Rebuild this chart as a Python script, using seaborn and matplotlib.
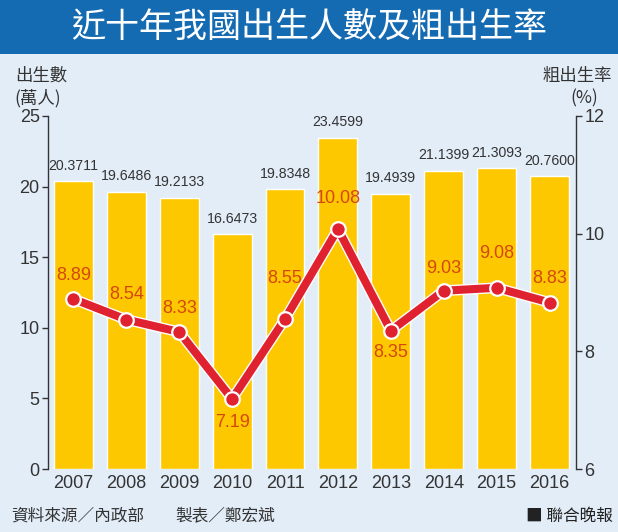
import matplotlib
matplotlib.use("Agg")
import matplotlib.pyplot as plt
from matplotlib.patches import Rectangle
import seaborn as sns

# data
years = ["2007", "2008", "2009", "2010", "2011", "2012", "2013", "2014", "2015", "2016"]
births = [20.3711, 19.6486, 19.2133, 16.6473, 19.8348, 23.4599, 19.4939, 21.1399, 21.3093, 20.7600]
rates = [8.89, 8.54, 8.33, 7.19, 8.55, 10.08, 8.35, 9.03, 9.08, 8.83]

# vertical offset (points) of each rate label from its marker
rate_label_offsets = [17, 18, 17, -17, 29, 22, -16, 16, 25, 17]

bg = "#e3edf8"
band = "#156bb2"
bar_color = "#fec800"
line_color = "#e0212f"
rate_text = "#d5470d"
dark = "#333333"
cjk = ["Noto Sans CJK TC", "DejaVu Sans"]

sns.set_style("ticks")
plt.rcParams["font.family"] = ["Liberation Sans", "Noto Sans CJK TC"]

fig = plt.figure(figsize=(6.18, 5.32), dpi=100, facecolor=bg)

# title band
fig.patches.append(Rectangle((0, 1 - 54 / 532), 1, 54 / 532, transform=fig.transFigure,
                             facecolor=band, edgecolor="none", zorder=0))
fig.text(0.5, 1 - 27 / 532, "近十年我國出生人數及粗出生率", ha="center", va="center",
         color="white", fontsize=24.5, family=cjk)

ax = fig.add_axes([48 / 618, 1 - 469 / 532, 528 / 618, 353 / 532])
ax.set_facecolor(bg)

sns.barplot(x=years, y=births, color=bar_color, width=0.735, saturation=1, ax=ax)
ax.bar_label(ax.containers[0], labels=[f"{v:.4f}" for v in births], padding=6,
             fontsize=10.2, color=dark)

ax2 = ax.twinx()
# white outline under the red line
sns.pointplot(x=years, y=rates, color="white", errorbar=None, markers="",
              linewidth=7.8, ax=ax2)
sns.pointplot(x=years, y=rates, color=line_color, errorbar=None, markers="o",
              linewidth=5.8, markersize=10.5, markeredgecolor="white",
              markeredgewidth=1.6, ax=ax2)

for i, r in enumerate(rates):
    ax2.annotate(f"{r:.2f}", (i, r), xytext=(0, rate_label_offsets[i]),
                 textcoords="offset points", ha="center", va="center",
                 fontsize=13, color=rate_text)

ax.set_xlim(-0.48, 9.5)
ax.set_ylim(0, 25)
ax.set_yticks([0, 5, 10, 15, 20, 25])
ax2.set_ylim(6, 12)
ax2.set_yticks([6, 8, 10, 12])
ax.set_xlabel("")
ax.set_ylabel("")
ax2.set_ylabel("")

for a in (ax, ax2):
    a.grid(False)
    a.spines["top"].set_visible(False)
    a.spines["bottom"].set_visible(False)
    a.spines["left"].set_color(dark)
    a.spines["right"].set_color(dark)
    a.spines["left"].set_linewidth(1.0)
    a.spines["right"].set_linewidth(1.0)
ax.spines["right"].set_visible(False)
ax2.spines["left"].set_visible(False)

ax.tick_params(axis="y", length=4.5, width=1.0, color=dark, pad=1.5, labelsize=13,
               labelcolor=dark)
ax2.tick_params(axis="y", length=4.5, width=1.0, color=dark, pad=1.5, labelsize=13,
                labelcolor=dark)
ax.tick_params(axis="x", length=0, pad=4.5, labelsize=13, labelcolor=dark)

# axis titles
fig.text(15 / 618, 1 - 76 / 532, "出生數", ha="left", va="center", fontsize=12.5,
         color=dark, family=cjk)
fig.text(14 / 618, 1 - 98 / 532, "(萬人)", ha="left", va="center", fontsize=12.5,
         color=dark, family=cjk)
fig.text(612 / 618, 1 - 76 / 532, "粗出生率", ha="right", va="center", fontsize=12.5,
         color=dark, family=cjk)
fig.text(584 / 618, 1 - 98 / 532, "(%)", ha="center", va="center", fontsize=12.5,
         color=dark, family=cjk)

# footer
fig.text(11 / 618, 1 - 516 / 532, "資料來源／內政部", ha="left", va="center",
         fontsize=12, color=dark, family=cjk)
fig.text(175 / 618, 1 - 516 / 532, "製表／鄭宏斌", ha="left", va="center",
         fontsize=12, color=dark, family=cjk)
fig.text(613 / 618, 1 - 516 / 532, "■ 聯合晚報", ha="right", va="center",
         fontsize=12, color="#222222", family=cjk)

fig.savefig("out.png", dpi=100, facecolor=bg)
